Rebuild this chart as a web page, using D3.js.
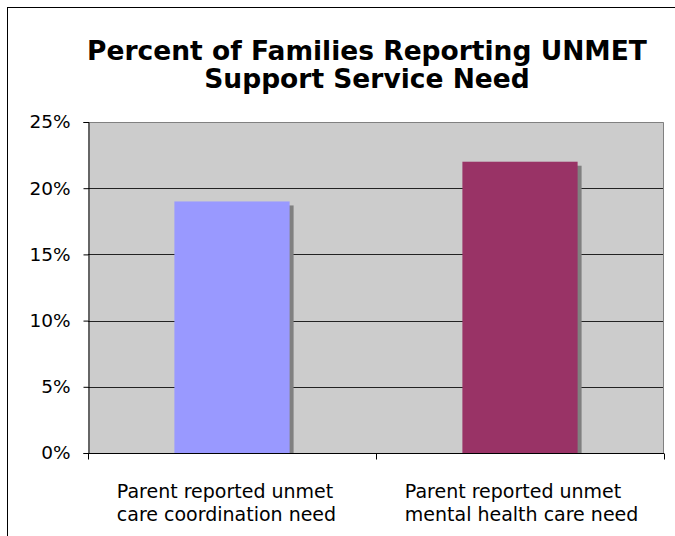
<!DOCTYPE html>
<html>
<head>
<meta charset="utf-8">
<script src="https://cdn.jsdelivr.net/npm/d3@7"></script>
<style>
  body { margin: 0; background: #fff; }
  svg { display: block; }
  text { font-family: "DejaVu Sans", Verdana, sans-serif; fill: #000; }
</style>
</head>
<body>
<div id="chart"></div>
<script>
// chart data
const titleLines = ["Percent of Families Reporting UNMET", "Support Service Need"];
const categories = [
  ["Parent reported unmet", "care coordination need"],
  ["Parent reported unmet", "mental health care need"]
];
const values = [0.19, 0.22];
const barColors = ["#9999FF", "#993366"];
const yTicks = [0, 0.05, 0.10, 0.15, 0.20, 0.25];

const width = 675, height = 536;
const margin = { top: 122, right: 11, bottom: 83, left: 88 };
const plotW = width - margin.left - margin.right;
const plotH = height - margin.top - margin.bottom;

const svg = d3.select("#chart").append("svg")
  .attr("width", width)
  .attr("height", height);

// outer chart border (runs off the right/bottom edge like the original)
svg.append("rect")
  .attr("x", 7.5).attr("y", 7.5)
  .attr("width", width + 20).attr("height", height + 20)
  .attr("fill", "none")
  .attr("stroke", "#000")
  .attr("stroke-width", 1);

// title
svg.append("text")
  .attr("text-anchor", "middle")
  .attr("font-size", 26.5)
  .attr("font-weight", "bold")
  .selectAll("tspan")
  .data(titleLines)
  .enter().append("tspan")
  .attr("x", 367)
  .attr("y", (d, i) => 60 + i * 28)
  .text(d => d);

const g = svg.append("g")
  .attr("transform", `translate(${margin.left},${margin.top})`);

const x = d3.scaleBand()
  .domain(d3.range(categories.length))
  .range([0, plotW])
  .paddingInner(0.6)
  .paddingOuter(0.3);

const y = d3.scaleLinear()
  .domain([0, 0.25])
  .range([plotH, 0]);

// plot background
g.append("rect")
  .attr("width", plotW)
  .attr("height", plotH)
  .attr("fill", "#cccccc");

// gridlines
g.selectAll(".grid")
  .data(yTicks.filter(t => t > 0 && t < 0.25))
  .enter().append("line")
  .attr("x1", 0).attr("x2", plotW)
  .attr("y1", d => Math.round(y(d)) + 0.5)
  .attr("y2", d => Math.round(y(d)) + 0.5)
  .attr("stroke", "#222");

// plot border top / right
g.append("path")
  .attr("d", `M0.5,0.5H${plotW - 0.5}V${plotH}`)
  .attr("fill", "none")
  .attr("stroke", "#808080");

// bar shadows
g.selectAll(".shadow")
  .data(values)
  .enter().append("rect")
  .attr("x", (d, i) => x(i) + 4)
  .attr("y", d => y(d) + 4)
  .attr("width", x.bandwidth())
  .attr("height", d => plotH - y(d) - 4)
  .attr("fill", "#808080");

// bars
g.selectAll(".bar")
  .data(values)
  .enter().append("rect")
  .attr("x", (d, i) => x(i))
  .attr("y", d => y(d))
  .attr("width", x.bandwidth())
  .attr("height", d => plotH - y(d))
  .attr("fill", (d, i) => barColors[i]);

// y axis
const yAxis = g.append("g")
  .attr("transform", "translate(0.5,0)")
  .call(d3.axisLeft(y).tickValues(yTicks).tickFormat(d3.format(".0%")).tickSize(5).tickPadding(13));
yAxis.select(".domain").attr("stroke", "#000");
yAxis.selectAll("text").attr("font-size", 18.5).attr("font-family", "DejaVu Sans, Verdana, sans-serif");

// x axis: ticks at category boundaries
const bounds = [0, plotW / 2, plotW];
const xAxis = g.append("g")
  .attr("transform", `translate(0,${plotH + 0.5})`);
xAxis.append("line")
  .attr("x1", 0).attr("x2", plotW)
  .attr("stroke", "#000");
xAxis.selectAll(".xt")
  .data(bounds)
  .enter().append("line")
  .attr("x1", d => Math.round(d) + 0.5)
  .attr("x2", d => Math.round(d) + 0.5)
  .attr("y1", 0).attr("y2", 6)
  .attr("stroke", "#000");

// category labels
xAxis.selectAll(".xl")
  .data(categories)
  .enter().append("text")
  .attr("font-size", 19)
  .each(function (lines, i) {
    d3.select(this).selectAll("tspan")
      .data(lines)
      .enter().append("tspan")
      .attr("x", x(i) - x.bandwidth() / 2)
      .attr("y", (d, j) => 44 + j * 23)
      .text(d => d);
  });
</script>
</body>
</html>
